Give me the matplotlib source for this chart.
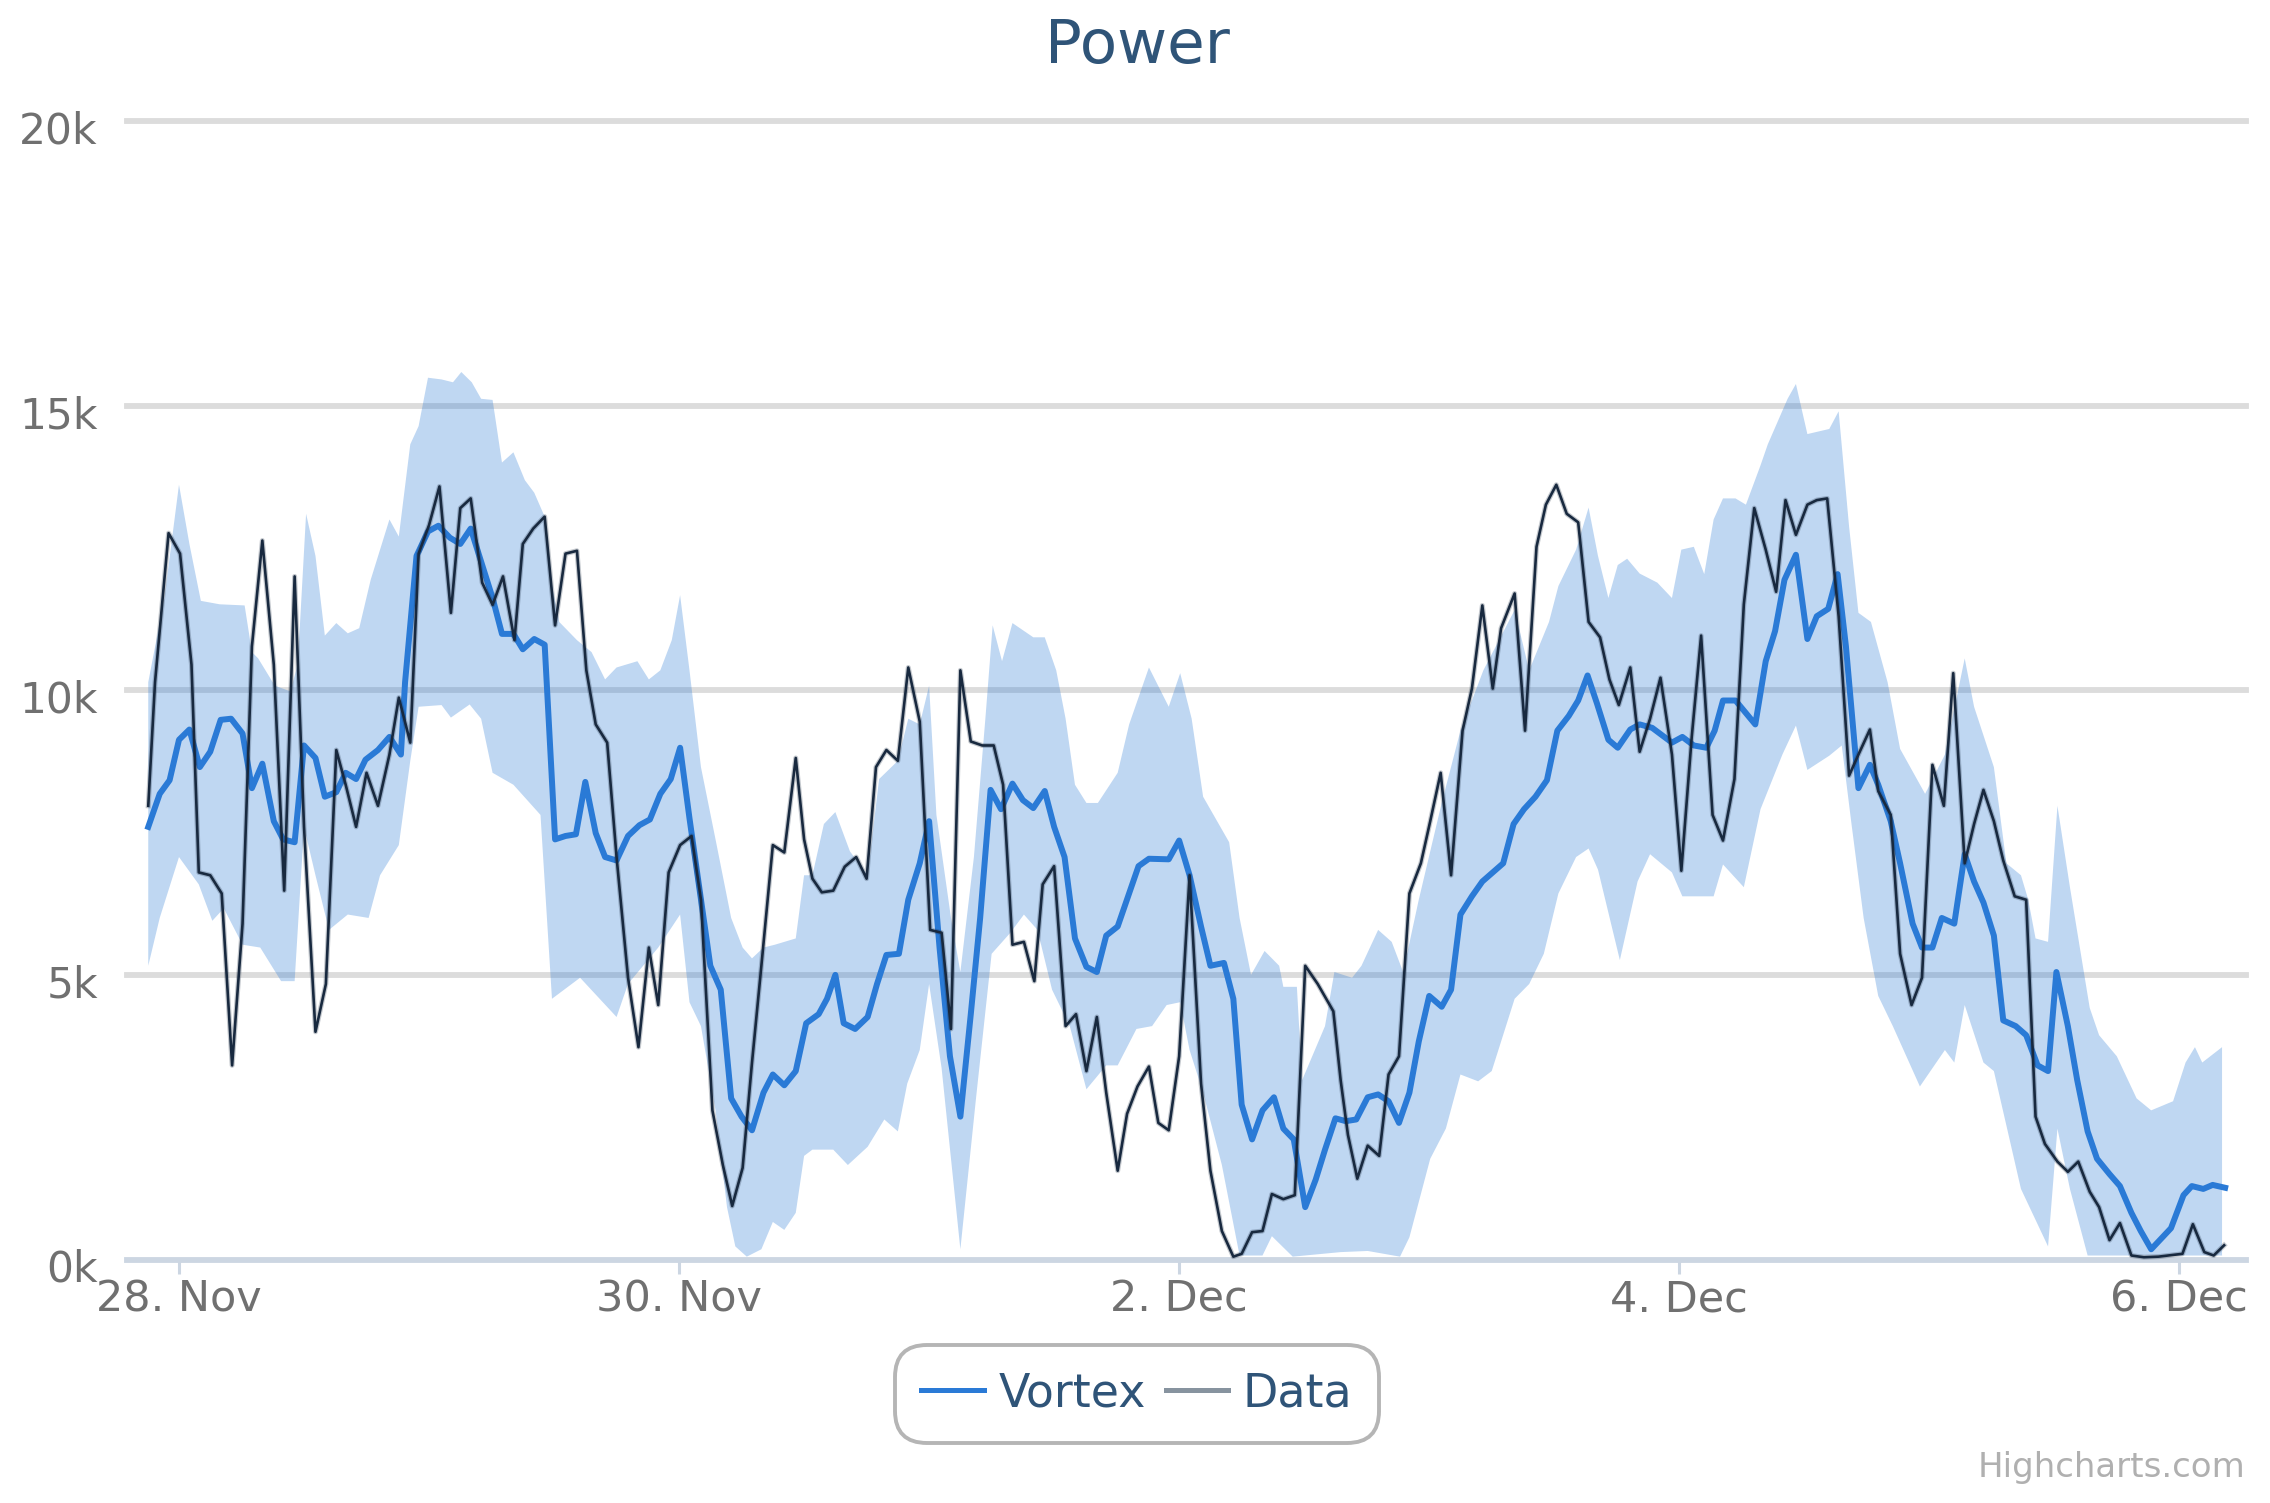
import matplotlib
matplotlib.use("Agg")
import matplotlib.pyplot as plt
from matplotlib.transforms import ScaledTranslation
import numpy as np

# hours since 28 Nov 00:00, values in thousands
data_h = [-2.95,-2.3,-1,0.1,1.2,1.9,3,4.1,5.1,6.1,7,8,9.1,10.1,11.1,12,13.1,14.1,15.1,16,17,18,19.1,20.2,21.1,22.2,23,24,25,26.1,27,28,29.1,30.1,31.1,32.2,33,34,35.1,36.1,37.1,38.2,39.1,40,41.1,42,43.1,44.1,45.1,46,47,48.1,49.2,50.1,51.2,52.2,53.1,54.1,55,55.9,57,58.1,59.2,
          60,60.8,61.7,62.8,63.9,65,66,66.9,67.9,69,70,71.1,72.1,73.2,74.1,75,76,77.1,78.2,79.1,80,81.1,82.1,82.9,84,85.1,86.1,87.1,88.1,89,90.1,91,92,93.1,94,95,96,97,98.1,99,100.1,101.2,102,103,104,104.9,106,107.1,108.1,109.3,110.8,111.5,112.2,113.1,114.1,115.2,116.1,117.1,118.1,119.2,120.1,121.1,122.1,123.2,124.1,125.1,126.1,126.9,128.2,
          129.2,130.3,131.2,132.2,133.2,134.3,135.3,136.4,137.3,138.2,139.3,140.2,141.2,142.2,143.3,144.2,145.2,146.1,147.2,148.2,149.3,150.2,151.2,152.3,153.3,154.2,155.2,156.3,157.2,158.2,159.3,160.3,161.2,162.3,163.1,164.3,165.2,166.3,167.3,168.3,169.4,170.3,171.4,172.3,173.2,174.2,175.1,176.2,177.3,178.2,179.1,180.3,181.3,182.3,183.4,184.3,185.3,186.3,187.4,188.6,190,192.3,193.3,194.4,195.3,196.3]
data_k = [7.97,10.14,12.76,12.4,10.45,6.8,6.75,6.43,3.41,5.9,10.77,12.63,10.45,6.48,12.0,7.6,4.0,4.84,8.95,8.34,7.6,8.55,7.97,8.87,9.87,9.08,12.4,12.9,13.58,11.36,13.2,13.37,11.89,11.5,12,10.88,12.57,12.84,13.05,11.14,12.4,12.45,10.35,9.4,9.08,7.07,4.95,3.73,5.48,4.47,6.8,7.28,7.44,6.32,2.62,1.66,0.94,1.61,3.46,5.16,7.28,7.15,8.81,
          7.38,6.69,6.45,6.48,6.9,7.07,6.69,8.65,8.95,8.76,10.4,9.45,5.79,5.74,4.05,10.35,9.1,9.03,9.03,8.34,5.53,5.58,4.89,6.59,6.91,4.1,4.31,3.31,4.26,2.93,1.56,2.56,3.04,3.39,2.4,2.27,3.57,6.75,3.09,1.56,0.5,0.05,0.1,0.48,0.5,1.15,1.06,1.13,5.16,4.84,4.36,3.15,2.19,1.42,2.0,1.82,3.25,3.57,6.43,6.96,7.7,8.55,6.75,9.29,10.03,11.49,10.03,11.09,11.7,
          9.29,12.52,13.26,13.61,13.1,12.95,11.2,10.93,10.19,9.74,10.4,8.92,9.5,10.22,8.87,6.83,9.18,10.96,7.81,7.36,8.44,11.51,13.2,12.47,11.73,13.34,12.73,13.26,13.34,13.37,11.3,8.5,8.87,9.31,8.23,7.81,5.37,4.47,4.95,8.69,7.97,10.3,6.96,7.65,8.25,7.7,7.01,6.38,6.32,2.51,2.03,1.72,1.54,1.72,1.19,0.92,0.34,0.64,0.07,0.04,0.05,0.1,0.62,0.13,0.07,0.25]

vortex_h = [-2.95,-1.85,-0.9,0,1,2,3,4,5,6.1,7,8,9.1,10,11.1,12,13.1,14,15.1,16,17,17.9,19.1,20.2,21.3,21.7,22.8,23.9,24.9,26,27,28,29.1,30.1,31,32.1,33,34.1,35.1,36.1,37.1,38.1,39,40,40.9,42,43.1,44.2,45.2,46.2,47.2,48.1,49,50.1,51,52,53,54,55,56.1,57,58.1,59.2,
            60.2,61.4,62.2,63,63.8,64.9,66.1,67,67.9,69.1,70,71.1,72,73,74,75,76,76.9,77.9,78.9,80,81,82,83.1,84,85,86,87.1,88.1,89,90.1,91.2,92.1,93.1,95,96,97,98.1,99,100.3,101.2,102,103,104,105.1,106,107,108.1,109.1,110,111,112,113,114.1,115.1,116.1,117.1,118.1,119,120,121.2,122.1,123,124.1,125.1,126.1,127.1,128.1,
            129.1,130.2,131.3,132.3,133.4,134.3,135.2,136.1,137.2,138.1,139.3,140.2,141.4,143.3,144.3,145.4,146.6,147.4,148.2,149.4,151.3,152.3,153.2,154.1,155.2,156.3,157.2,158.3,159.2,160,161.2,162.3,163.1,164.3,165.2,166.4,167.3,168.3,169.2,170.4,171.4,172.3,173.2,174.2,175.1,176.3,177.3,178.4,179.4,180.2,181.3,182.2,183.2,184.1,185.3,186.3,187.4,188.3,189.3,191.2,192.4,193.2,194.3,195.2,196.4]
vortex_k = [7.6,8.18,8.42,9.13,9.31,8.65,8.92,9.48,9.5,9.24,8.28,8.71,7.7,7.38,7.33,9.03,8.81,8.13,8.21,8.55,8.44,8.78,8.95,9.18,8.87,10.14,12.36,12.79,12.89,12.68,12.57,12.84,12.2,11.62,10.99,10.99,10.72,10.9,10.8,7.38,7.44,7.47,8.39,7.49,7.07,7.01,7.44,7.63,7.73,8.18,8.44,8.99,7.75,6.32,5.16,4.74,2.83,2.51,2.27,2.93,3.25,3.06,3.31,
            4.15,4.31,4.58,5.0,4.15,4.05,4.26,4.84,5.35,5.37,6.32,6.96,7.7,5.48,3.57,2.51,4.31,6.0,8.25,7.91,8.36,8.07,7.93,8.23,7.6,7.07,5.64,5.14,5.05,5.69,5.85,6.43,6.91,7.04,7.03,7.36,6.75,5.85,5.16,5.21,4.58,2.72,2.11,2.62,2.85,2.3,2.11,0.92,1.4,1.93,2.48,2.43,2.46,2.85,2.9,2.78,2.4,2.93,3.83,4.63,4.44,4.74,6.06,6.38,6.64,6.8,6.96,7.65,
            7.91,8.13,8.42,9.29,9.55,9.82,10.26,9.77,9.13,8.99,9.31,9.4,9.34,9.08,9.18,9.03,8.99,9.29,9.82,9.82,9.4,10.51,11.04,11.94,12.38,10.9,11.3,11.43,12.04,10.77,8.28,8.69,8.34,7.7,6.96,5.9,5.48,5.48,6.0,5.9,7.12,6.64,6.27,5.69,4.2,4.1,3.94,3.41,3.31,5.05,4.1,3.15,2.25,1.77,1.5,1.29,0.82,0.5,0.18,0.55,1.13,1.29,1.24,1.31,1.26]

upper_h = [-2.95,-1.4,0,1,2.1,3.9,6.3,7,7.6,9.2,10.7,11.4,12.2,13.1,14,15.1,16.2,17.3,18.4,20.2,21.1,22.2,23,23.9,25.2,26.3,27.1,28.1,29,30.1,31,32.1,33.2,34.1,35.1,35.8,36.5,38.2,39.6,40.9,42,44,45.1,46.2,47.3,48.1,49,50.1,51.5,53,54.1,55,56.1,57.2,59.2,60,
           60.8,61.9,63,64.4,66.1,67.2,69,70,71.1,72,72.7,74.1,75,76.3,77.4,78.1,79,80,82,83.1,84.2,85.1,86,87.1,88.2,90.1,91.2,93.1,95,96.1,97.2,98.3,100.8,101.8,102.9,104.2,105.6,106,107.3,107.8,110,110.9,112.6,113.5,115.1,116.4,117.5,119,121.2,123,125.2,128.2,
           129.6,131.5,132.4,134.1,135.3,136.2,137.2,138.1,139,140.2,141.9,143.3,144.2,145.4,146.4,147.3,148.2,149.4,150.4,151.8,152.5,154.4,155.2,156.3,158.4,159.3,160.3,161.2,162.4,164,165.2,167.6,169.5,171.4,172.3,174.2,175.4,176.8,177.5,178.2,179.4,180.3,181.5,183.4,184.3,186,187.9,189.3,191.4,192.6,193.5,194.2,196.1]
upper_k = [10.14,11.62,13.61,12.57,11.57,11.51,11.49,10.67,10.56,10.08,9.98,10.46,13.1,12.36,10.96,11.18,11.0,11.09,11.94,13.0,12.7,14.32,14.64,15.49,15.46,15.41,15.59,15.41,15.12,15.1,14.0,14.18,13.69,13.47,13.05,11.83,11.2,10.88,10.67,10.19,10.4,10.51,10.19,10.35,10.88,11.67,10.35,8.65,7.38,6.0,5.48,5.29,5.48,5.53,5.64,6.75,
           6.75,7.65,7.86,7.17,6.75,8.44,8.76,9.5,9.4,10.08,7.81,6.0,5.05,7.07,9.5,11.14,10.51,11.18,10.93,10.93,10.35,9.5,8.34,8.02,8.02,8.55,9.4,10.4,9.71,10.3,9.5,8.13,7.33,6.0,5.0,5.42,5.16,4.79,4.79,3.15,4.1,5.05,4.95,5.16,5.79,5.58,5.05,6.32,8.02,9.29,10.35,11.41,
           10.35,11.2,11.83,12.47,13.21,12.36,11.62,12.2,12.31,12.05,11.89,11.62,12.47,12.52,12.04,13.0,13.37,13.37,13.26,13.95,14.32,15.12,15.38,14.5,14.59,14.9,12.88,11.36,11.2,10.14,8.97,8.18,8.87,10.56,9.71,8.65,6.96,6.75,6.32,5.64,5.58,7.97,6.54,4.42,3.94,3.57,2.83,2.62,2.78,3.46,3.73,3.46,3.73]

lower_h = [-2.95,-1.85,0,1.9,3.2,4.3,6.1,7.8,9.8,11.1,12,13.1,14.4,16.2,18.2,19.3,21.1,22.2,23,25.2,26.1,27.9,29,30.1,32.1,34.7,35.8,38.5,42,43.1,46,48.1,49,50.1,51.5,52.6,53.4,54.5,55.9,57,58.1,59.2,60,
           60.8,62.8,64.2,66.1,67.7,69,69.9,71.1,72,73.2,75,76.5,78,79.8,81.1,82.4,83.8,85.5,87.1,89,90.1,91.9,93.4,94.8,96.1,97,98.3,100.1,101.8,104,104.9,106.9,111.5,114.1,117.2,118.1,120.1,121.6,123,124.7,126,128.2,
           129.6,131,132.4,134.1,135.3,136.2,138.3,140,141.2,143.3,144.3,147.3,148.2,150.2,151.8,153.9,155.2,156.3,158.4,159.6,160.5,161.7,163.1,164.5,167.1,169.5,170.4,171.4,173.2,174.2,176.8,179.4,180.3,181.5,183.2,196.1]
lower_k = [5.16,6.0,7.07,6.59,5.95,6.17,5.53,5.48,4.89,4.89,7.6,6.75,5.79,6.06,6.0,6.75,7.28,8.76,9.71,9.74,9.52,9.75,9.5,8.55,8.34,7.81,4.58,4.95,4.26,4.84,5.48,6.06,4.52,4.1,2.62,0.92,0.23,0.05,0.18,0.66,0.52,0.82,1.82,
           1.93,1.93,1.66,1.98,2.46,2.25,3.09,3.68,4.84,3.36,0.18,2.83,5.37,5.74,6.06,5.79,4.74,4.1,2.99,3.41,3.41,4.05,4.1,4.47,4.52,3.68,2.93,1.66,0.07,0.07,0.41,0.05,0.13,0.15,0.05,0.39,1.77,2.3,3.25,3.13,3.31,4.58,
           4.84,5.37,6.43,7.07,7.22,6.85,5.26,6.64,7.12,6.8,6.38,6.38,6.94,6.54,7.91,8.87,9.38,8.6,8.85,9.03,7.7,6.0,4.63,4.1,3.04,3.68,3.46,4.47,3.46,3.31,1.24,0.23,2.3,1.24,0.07,0.07]

y_ticks = [0, 5, 10, 15, 20]
y_labels = ["0k", "5k", "10k", "15k", "20k"]
x_ticks = [0, 48, 96, 144, 192]
x_labels = ["28. Nov", "30. Nov", "2. Dec", "4. Dec", "6. Dec"]

W, H = 2270, 1503
fig = plt.figure(figsize=(W / 100, H / 100), dpi=100, facecolor="white")
L, R, T, B = 127, 2246, 121, 1259.5
ax = fig.add_axes([L / W, 1 - B / H, (R - L) / W, (B - T) / H])
ax.set_xlim(-4.99, 198.4)
ax.set_ylim(0, 20)
for s in ax.spines.values():
    s.set_visible(False)
ax.patch.set_alpha(0)

for v in y_ticks[1:]:
    ax.axhline(v, color="#dcdcdc", lw=4.2, zorder=1, clip_on=False)
ax.axhline(0, color="#ccd6e2", lw=4.2, zorder=1, clip_on=False)

ax.fill(list(upper_h) + list(lower_h)[::-1], list(upper_k) + list(lower_k)[::-1],
        color="#2b7bd6", alpha=0.3, lw=0, zorder=2)
ax.plot(vortex_h, vortex_k, color="#2a7ad6", lw=4.3, zorder=3, solid_joinstyle="round", label="Vortex")
ax.plot(data_h, data_k, color="#18293f", alpha=0.25, lw=3.6, zorder=4, solid_joinstyle="round")
ax.plot(data_h, data_k, color="#18293f", lw=1.9, zorder=4, solid_joinstyle="round", label="Data")

ax.set_xticks(x_ticks, x_labels)
ax.set_yticks(y_ticks, y_labels)
ax.tick_params(axis="x", length=10, width=2.2, color="#ccd6e2", labelsize=31, labelcolor="#707070", pad=4)
ax.tick_params(axis="y", length=0, labelsize=30.5, labelcolor="#707070", pad=21)
shift = ScaledTranslation(0, -6 / 100, fig.dpi_scale_trans)
for lab in ax.get_yticklabels():
    lab.set_transform(lab.get_transform() + shift)

fig.text(1137 / W, 1 - 47 / H, "Power", fontsize=44, color="#2f5478", ha="center", va="center")
fig.text(2245 / W, 1 - 1468 / H, "Highcharts.com", fontsize=24.5, color="#b0b0b0", ha="right", va="center")

hs, ls = ax.get_legend_handles_labels()
leg = ax.legend(hs, ls, ncols=2, loc="center", bbox_to_anchor=(1137 / W, 1 - 1394 / H),
                bbox_transform=fig.transFigure, fontsize=33, handlelength=1.37,
                columnspacing=0.42, handletextpad=0.32, borderpad=0.58, borderaxespad=0,
                frameon=True, fancybox=True, edgecolor="#b5b5b5", facecolor="white", framealpha=1)
leg.get_frame().set_linewidth(2.8)
leg.get_frame().set_boxstyle("round", pad=0, rounding_size=0.7)
for t in leg.get_texts():
    t.set_color("#2f5478")
lh = leg.get_lines()
lh[0].set_linewidth(3.6)
lh[1].set_color("#87939f")
lh[1].set_linewidth(3.6)

fig.savefig("out.png", dpi=100, facecolor="white")
